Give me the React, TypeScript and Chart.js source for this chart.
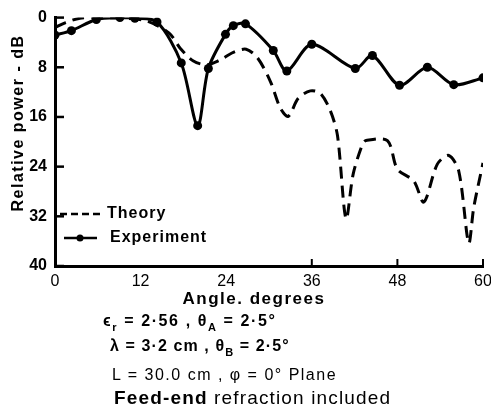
import React, { useEffect, useRef } from "react";
import { Chart, registerables } from "chart.js";

Chart.register(...registerables);

// ---- data ----
const theoryAngles = [0, 1.5, 3.5, 6, 10, 13, 16, 17.6, 19.4, 21.3, 23, 25, 26.8, 28.4, 30.2, 31.6, 32.7, 34.1, 35.8, 37.2, 38.6, 39.6, 40.8, 41.8, 43.1, 43.6, 46.6, 48, 50.3, 51.7, 53.6, 55.2, 56.6, 58, 58.7, 60];
const theoryDb = [1.6, 0.8, 0.1, 0, 0.1, 0.6, 2.5, 5, 7, 7.6, 6.9, 5.6, 5.1, 6.5, 10.3, 14.6, 15.9, 13, 11.8, 12.2, 15, 19, 32.4, 25.2, 20.4, 19.8, 19.8, 24.4, 26.3, 29.7, 23.6, 22.2, 24.7, 36.3, 30.6, 23.4];
const expAngles = [0, 2.3, 5.8, 9.1, 11.2, 14.3, 17.7, 20.0, 21.5, 23.9, 25.0, 26.7, 30.6, 32.5, 36.0, 42.1, 44.5, 48.3, 52.2, 55.9, 60];
const expDb = [2.8, 2.1, 0.3, 0, 0.1, 0.7, 7.3, 17.4, 8.2, 2.7, 1.3, 1.0, 5.3, 8.6, 4.3, 8.2, 6.1, 10.9, 8.0, 10.8, 9.7];
const xTicks = [0, 12, 24, 36, 48, 60];
const yTicks = [0, 8, 16, 24, 32, 40];
const xTickMarks = [36, 48, 60];
const seriesNames = ["Theory", "Experiment"];
const yTitle = "Relative power - dB";
const xTitle = "Angle. degrees";

const FONT = "'Liberation Sans', Arial, Helvetica, sans-serif";

const extrasPlugin = {
  id: "extras",
  afterDraw(chart: any) {
    const ctx = chart.ctx as CanvasRenderingContext2D;
    const { left, bottom } = chart.chartArea;
    const xs = chart.scales.x;
    const ys = chart.scales.y;
    ctx.save();
    ctx.strokeStyle = "#000";
    ctx.fillStyle = "#000";
    // inward y tick marks
    ctx.lineWidth = 2.5;
    yTicks.forEach((v) => {
      const y = ys.getPixelForValue(v);
      ctx.beginPath();
      ctx.moveTo(left, y);
      ctx.lineTo(left + 9, y);
      ctx.stroke();
    });
    // small x tick marks
    ctx.lineWidth = 2;
    xTickMarks.forEach((v) => {
      const x = xs.getPixelForValue(v);
      ctx.beginPath();
      ctx.moveTo(x, bottom);
      ctx.lineTo(x, bottom - 7);
      ctx.stroke();
    });
    // legend
    ctx.lineWidth = 2.5;
    ctx.setLineDash([7, 4]);
    ctx.beginPath();
    ctx.moveTo(60, 214);
    ctx.lineTo(104, 214);
    ctx.stroke();
    ctx.setLineDash([]);
    ctx.beginPath();
    ctx.moveTo(64, 238);
    ctx.lineTo(97, 238);
    ctx.stroke();
    ctx.beginPath();
    ctx.arc(80, 238, 3.5, 0, Math.PI * 2);
    ctx.fill();
    ctx.font = `bold 16px ${FONT}`;
    ctx.textBaseline = "middle";
    ctx.textAlign = "left";
    (ctx as any).letterSpacing = "1px";
    ctx.fillText(seriesNames[0], 107, 214);
    ctx.fillText(seriesNames[1], 110, 238);
    // y title
    ctx.save();
    ctx.translate(19, 123);
    ctx.rotate(-Math.PI / 2);
    ctx.textAlign = "center";
    ctx.font = `bold 16px ${FONT}`;
    (ctx as any).letterSpacing = "1.5px";
    ctx.fillText(yTitle, 0, 0);
    ctx.restore();
    // x title
    ctx.textAlign = "center";
    ctx.font = `bold 17px ${FONT}`;
    (ctx as any).letterSpacing = "1.5px";
    ctx.fillText(xTitle, 254, 299);
    ctx.restore();
  },
};

export default function App() {
  const ref = useRef<HTMLCanvasElement | null>(null);
  useEffect(() => {
    if (!ref.current) return;
    const chart = new Chart(ref.current, {
      type: "line",
      data: {
        datasets: [
          {
            label: seriesNames[0],
            data: theoryAngles.map((a, i) => ({ x: a, y: theoryDb[i] })),
            borderColor: "#000",
            borderWidth: 3,
            borderDash: [12, 7],
            pointRadius: 0,
            tension: 0.3,
            fill: false,
          },
          {
            label: seriesNames[1],
            data: expAngles.map((a, i) => ({ x: a, y: expDb[i] })),
            borderColor: "#000",
            borderWidth: 3,
            pointRadius: 4.5,
            pointBackgroundColor: "#000",
            pointBorderColor: "#000",
            pointBorderWidth: 0,
            tension: 0.3,
            fill: false,
          },
        ],
      },
      options: {
        animation: false,
        responsive: false,
        layout: { padding: { left: 0, top: 15, right: 8, bottom: 0 } },
        plugins: { legend: { display: false }, tooltip: { enabled: false } },
        scales: {
          x: {
            type: "linear",
            min: 0,
            max: 60,
            afterBuildTicks: (s: any) => {
              s.ticks = xTicks.map((v) => ({ value: v }));
            },
            afterFit: (s: any) => {
              s.height = 146;
              s.paddingLeft = 0;
              s.paddingRight = 0;
            },
            ticks: {
              color: "#000",
              font: { size: 16, family: FONT },
              padding: 6,
              maxRotation: 0,
              autoSkip: false,
            },
            grid: { display: false, drawTicks: false },
            border: { display: true, color: "#000", width: 3 },
          },
          y: {
            type: "linear",
            reverse: true,
            min: 0,
            max: 40,
            afterBuildTicks: (s: any) => {
              s.ticks = yTicks.map((v) => ({ value: v }));
            },
            afterFit: (s: any) => {
              s.width = 55;
            },
            ticks: {
              color: "#000",
              font: { size: 16, weight: "bold", family: FONT },
              padding: 8,
              autoSkip: false,
            },
            grid: { display: false, drawTicks: false },
            border: { display: true, color: "#000", width: 3 },
          },
        },
      },
      plugins: [extrasPlugin],
    });
    return () => chart.destroy();
  }, []);

  const line: React.CSSProperties = {
    position: "absolute",
    whiteSpace: "pre",
    fontFamily: FONT,
    color: "#000",
    lineHeight: "20px",
  };
  const sub: React.CSSProperties = { fontSize: "11px", verticalAlign: "-5px" };

  return (
    <div style={{ position: "fixed", left: 0, top: 0, width: 491, height: 412, background: "#fff" }}>
      <canvas ref={ref} width={491} height={412} style={{ position: "absolute", left: 0, top: 0 }} />
      <div style={{ ...line, left: 103, top: 311, fontSize: 16, fontWeight: "bold", letterSpacing: "1.6px" }}>
        ϵ<span style={sub}>r</span> = 2·56 , θ<span style={sub}>A</span> = 2·5°
      </div>
      <div style={{ ...line, left: 110, top: 336, fontSize: 16, fontWeight: "bold", letterSpacing: "1.1px" }}>
        λ = 3·2 cm , θ<span style={sub}>B</span> = 2·5°
      </div>
      <div style={{ ...line, left: 112, top: 365, fontSize: 16, letterSpacing: "1.5px" }}>
        L = 30.0 cm , φ = 0° Plane
      </div>
      <div style={{ ...line, left: 114, top: 388, fontSize: 19, letterSpacing: "1.15px" }}>
        <b>Feed-end</b> refraction included
      </div>
    </div>
  );
}
